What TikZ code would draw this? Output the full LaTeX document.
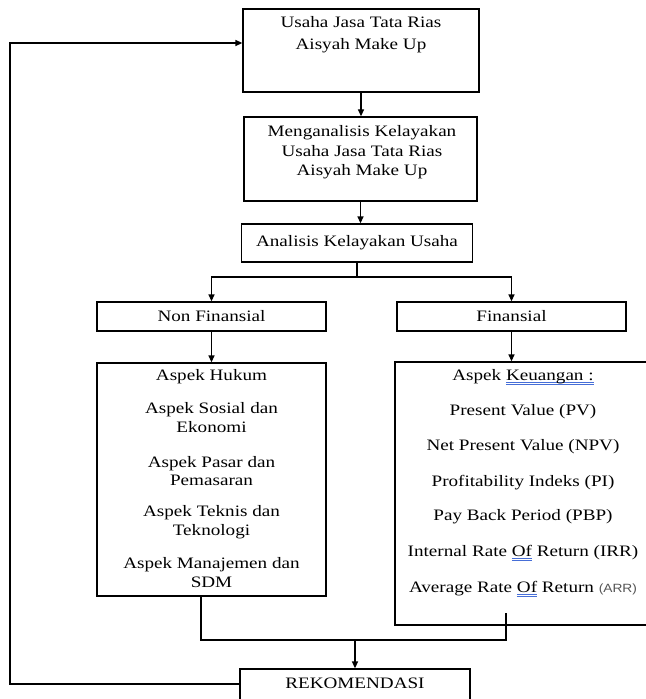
\documentclass[tikz,border=0pt]{standalone}
\usepackage{fontspec}
\setmainfont{Liberation Serif}[FakeStretch=1.2]
\newfontfamily\arrfont{Liberation Sans}[FakeStretch=1.15]
\usetikzlibrary{arrows.meta}
\definecolor{ulblue}{RGB}{70,110,215}
\definecolor{arrgray}{RGB}{85,85,85}
\newsavebox\myulbox
\newcommand{\dblul}[1]{\sbox\myulbox{#1}\rlap{\textcolor{ulblue}{\rule[-2.4pt]{\wd\myulbox}{0.55pt}}}\rlap{\textcolor{ulblue}{\rule[-4pt]{\wd\myulbox}{0.55pt}}}\usebox\myulbox}
\begin{document}
\begin{tikzpicture}[x=1bp,y=-1bp,
  boxsty/.style={draw,line width=1.3bp,inner sep=0pt},
  txt/.style={font=\fontsize{16}{18.5}\selectfont,align=center,inner sep=0pt},
  link/.style={line width=1.3bp},
  arr/.style={link,-{Triangle[length=7bp,width=6bp]}}]
\useasboundingbox (0,0) rectangle (646,699);
\fill[white] (0,0) rectangle (646,699);
\clip (0,0) rectangle (646,699);
% boxes
\node[boxsty,minimum width=236bp,minimum height=83bp] (b1) at (361,50.5) {};
\node[boxsty,minimum width=233bp,minimum height=84bp] (b2) at (360.5,159) {};
\node[boxsty,minimum width=231bp,minimum height=38bp] (b3) at (357,243) {};
\node[boxsty,minimum width=229bp,minimum height=29bp] (nf) at (211.5,316.5) {};
\node[boxsty,minimum width=229bp,minimum height=29bp] (fi) at (511.5,316.5) {};
\node[boxsty,minimum width=229bp,minimum height=233bp] (lb) at (211.5,479.5) {};
\node[boxsty,minimum width=257bp,minimum height=263bp] (rb) at (523.5,493.5) {};
\node[boxsty,minimum width=230bp,minimum height=51bp] (rk) at (355,694.5) {};
% texts
\node[txt,font=\fontsize{16}{22}\selectfont] (t1) at (361,35) {Usaha Jasa Tata Rias\\Aisyah Make Up};
\node[txt,font=\fontsize{16}{19.5}\selectfont] (t2) at (362,152.5) {Menganalisis Kelayakan\\Usaha Jasa Tata Rias\\Aisyah Make Up};
\node[txt] (t3) at (357,243) {Analisis Kelayakan Usaha};
\node[txt] (tnf) at (211.5,316.5) {Non Finansial};
\node[txt] (tfi) at (511.5,316.5) {Finansial};
\node[txt] (l1) at (211.5,377) {Aspek Hukum};
\node[txt] (l2) at (211.5,417.5) {Aspek Sosial dan\\Ekonomi};
\node[txt] (l3) at (211.5,471) {Aspek Pasar dan\\Pemasaran};
\node[txt] (l4) at (211.5,522) {Aspek Teknis dan\\Teknologi};
\node[txt] (l5) at (211.5,572.5) {Aspek Manajemen dan\\SDM};
\node[txt] (r0) at (523,377) {Aspek \dblul{Keuangan :}};
\node[txt] (r1) at (523,412) {Present Value (PV)};
\node[txt] (r2) at (523,447) {Net Present Value (NPV)};
\node[txt] (r3) at (523,483) {Profitability Indeks (PI)};
\node[txt] (r4) at (523,517) {Pay Back Period (PBP)};
\node[txt] (r5) at (523,553) {Internal Rate \dblul{Of} Return (IRR)};
\node[txt] (r6) at (523,589) {Average Rate \dblul{Of} Return {\arrfont\fontsize{12}{14}\selectfont\color{arrgray}(ARR)}};
\node[txt] (tr) at (355,683) {REKOMENDASI};
% connectors
\draw[arr] (b1.south) -- (b1.south |- b2.north);
\draw[arr] (b2.south) -- (b2.south |- b3.north);
\coordinate (jb) at (357,277);
\draw[link] (b3.south) -- (jb);
\draw[arr] (jb) -| (nf.north);
\draw[arr] (jb) -| (fi.north);
\draw[arr] (nf.south) -- (lb.north);
\draw[arr] (fi.south) -- (fi.south |- rb.north);
\coordinate (lt) at (201,596);
\coordinate (rt) at (506,613);
\coordinate (jl) at (201,640);
\coordinate (jr) at (506,640);
\coordinate (jm) at (355,640);
\draw[link] (lt) -- (jl) -- (jr) -- (rt);
\draw[arr] (jm) -- (jm |- rk.north);
\coordinate (fb1) at (10,684);
\coordinate (fb2) at (10,43);
\draw[arr] (rk.west |- fb1) -- (fb1) -- (fb2) -- (fb2 -| b1.west);
\end{tikzpicture}
\end{document}
